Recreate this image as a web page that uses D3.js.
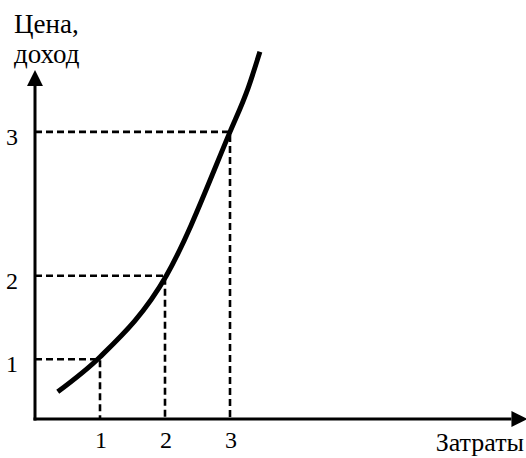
<!DOCTYPE html>
<html>
<head>
<meta charset="utf-8">
<script src="https://cdn.jsdelivr.net/npm/d3@7"></script>
<style>
  body { margin: 0; background: #fff; }
  text { font-family: "Liberation Serif", "Times New Roman", serif; fill: #000; }
</style>
</head>
<body>
<div id="chart"></div>
<script>
// curve: costs (x) vs price/income (y)
var costs  = [0.35, 1.00, 2.02, 3.00, 3.28, 3.46];
var prices = [0.47, 1.07, 2.47, 4.95, 5.71, 6.33];

// dashed guides: cost tick -> price level on the curve
var costTicks   = [1, 2, 3];
var priceLevels = [1.03, 2.47, 4.95];
var tickLabels  = ["1", "2", "3"];

var width = 526, height = 458;
var margin = {left: 35, bottom: 39};

var svg = d3.select("#chart").append("svg")
    .attr("width", width)
    .attr("height", height);

// scales
var x = d3.scaleLinear().domain([0, 7.5]).range([margin.left, margin.left + 7.5 * 65]);
var y = d3.scaleLinear().domain([0, 6]).range([height - margin.bottom, height - margin.bottom - 6 * 58]);

// arrow marker
svg.append("defs").append("marker")
    .attr("id", "arrow")
    .attr("viewBox", "0 0 16 16")
    .attr("refX", 0)
    .attr("refY", 8)
    .attr("markerUnits", "userSpaceOnUse")
    .attr("markerWidth", 16)
    .attr("markerHeight", 16)
    .attr("orient", "auto")
    .append("path")
    .attr("d", "M0,0L16,8L0,16Z")
    .attr("fill", "#000");

// dashed guides
var guides = svg.append("g").attr("class", "guides");
costTicks.forEach(function (c, i) {
    guides.append("path")
        .attr("d", "M" + x(0) + "," + y(priceLevels[i]) + "H" + x(c) + "V" + y(0))
        .attr("fill", "none")
        .attr("stroke", "#000")
        .attr("stroke-width", 2.6)
        .attr("stroke-dasharray", "7,4");
});

// axes
svg.append("line")
    .attr("x1", x(0)).attr("y1", y(0) + 1.5)
    .attr("x2", x(0)).attr("y2", y(5.74))
    .attr("stroke", "#000").attr("stroke-width", 3)
    .attr("marker-end", "url(#arrow)");
svg.append("line")
    .attr("x1", x(0) - 1.5).attr("y1", y(0))
    .attr("x2", x(7.33)).attr("y2", y(0))
    .attr("stroke", "#000").attr("stroke-width", 3)
    .attr("marker-end", "url(#arrow)");

// curve
var line = d3.line()
    .x(function (d, i) { return x(costs[i]); })
    .y(function (d, i) { return y(prices[i]); })
    .curve(d3.curveMonotoneX);

svg.append("path")
    .datum(costs)
    .attr("d", line)
    .attr("fill", "none")
    .attr("stroke", "#000")
    .attr("stroke-width", 5)
    .attr("stroke-linecap", "butt");

// tick labels
svg.selectAll(".xlab")
    .data(costTicks)
    .enter().append("text")
    .attr("class", "xlab")
    .attr("x", function (d) { return x(d) + 1; })
    .attr("y", y(0) + 29)
    .attr("text-anchor", "middle")
    .style("font-size", "24px")
    .text(function (d, i) { return tickLabels[i]; });

svg.selectAll(".ylab")
    .data(priceLevels)
    .enter().append("text")
    .attr("class", "ylab")
    .attr("x", 12)
    .attr("y", function (d) { return y(d) + 13; })
    .attr("text-anchor", "middle")
    .style("font-size", "24px")
    .text(function (d, i) { return tickLabels[i]; });

// axis titles
svg.append("text").attr("x", 14).attr("y", 33).style("font-size", "27px").text("Цена,");
svg.append("text").attr("x", 14).attr("y", 63).style("font-size", "27px").text("доход");
svg.append("text").attr("x", 524).attr("y", 451).attr("text-anchor", "end")
    .style("font-size", "26px").text("Затраты");
</script>
</body>
</html>
